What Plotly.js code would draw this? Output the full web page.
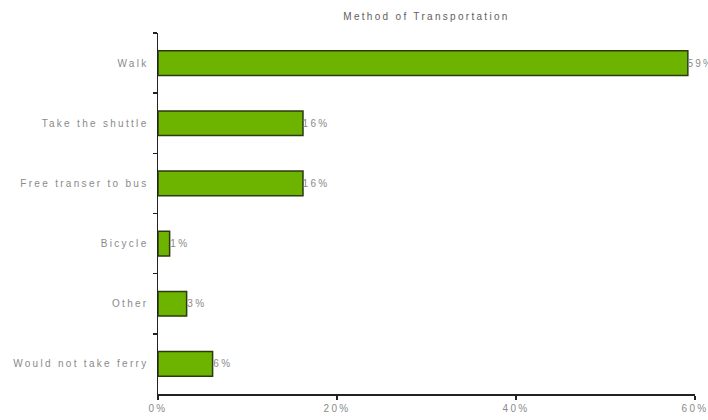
<!DOCTYPE html>
<html>
<head>
<meta charset="utf-8">
<script src="https://cdn.plot.ly/plotly-3.0.1.min.js"></script>
<style>
  html, body { margin: 0; padding: 0; background: #fff; }
  #chart { width: 708px; height: 420px; }
  #chart svg text { letter-spacing: 2.3px !important; }
</style>
</head>
<body>
<div id="chart"></div>
<script>
const categories = ["Walk", "Take the shuttle", "Free transer to bus", "Bicycle", "Other", "Would not take ferry"];
const values = [59.2, 16.2, 16.2, 1.3, 3.2, 6.1];
const labels = ["59%", "16%", "16%", "1%", "3%", "6%"];
const xTicks = [0, 20, 40, 60];
const xTickText = ["0%", "20%", "40%", "60%"];

const trace = {
  type: "bar",
  orientation: "h",
  y: categories,
  x: values,
  text: labels,
  textposition: "outside",
  cliponaxis: false,
  textfont: { family: "Liberation Sans, Arial, sans-serif", size: 10, color: "#8a8a8a" },
  marker: { color: "#6db400", line: { color: "#2c3a12", width: 1.5 } },
  width: 0.41,
  hoverinfo: "none"
};

const layout = {
  width: 708, height: 420,
  margin: { l: 158, r: 13, t: 33, b: 26 },
  paper_bgcolor: "#ffffff",
  plot_bgcolor: "#ffffff",
  showlegend: false,
  font: { family: "Liberation Sans, Arial, sans-serif", size: 10, color: "#808080" },
  title: {
    text: "Method of Transportation",
    font: { family: "Liberation Sans, Arial, sans-serif", size: 10, color: "#5e5e5e" },
    x: 0.5, xref: "paper", xanchor: "center",
    y: 1 - 16 / 420, yref: "container", yanchor: "middle"
  },
  xaxis: {
    range: [0, 60],
    tickvals: xTicks,
    ticktext: xTickText,
    showgrid: false,
    zeroline: false,
    showline: true, linecolor: "#222", linewidth: 1.5,
    ticks: "outside", ticklen: 4, tickcolor: "#222", tickwidth: 1.5,
    tickfont: { size: 10, color: "#8a8a8a" }
  },
  yaxis: {
    type: "category",
    autorange: "reversed",
    showgrid: false,
    zeroline: false,
    showline: true, linecolor: "#222", linewidth: 1.5,
    ticks: "outside", ticklen: 4, tickcolor: "#222", tickwidth: 1.5,
    tickson: "boundaries",
    ticklabelstandoff: 6,
    tickfont: { size: 10, color: "#8a8a8a" }
  }
};

Plotly.newPlot("chart", [trace], layout, { displayModeBar: false, staticPlot: true });
</script>
</body>
</html>
